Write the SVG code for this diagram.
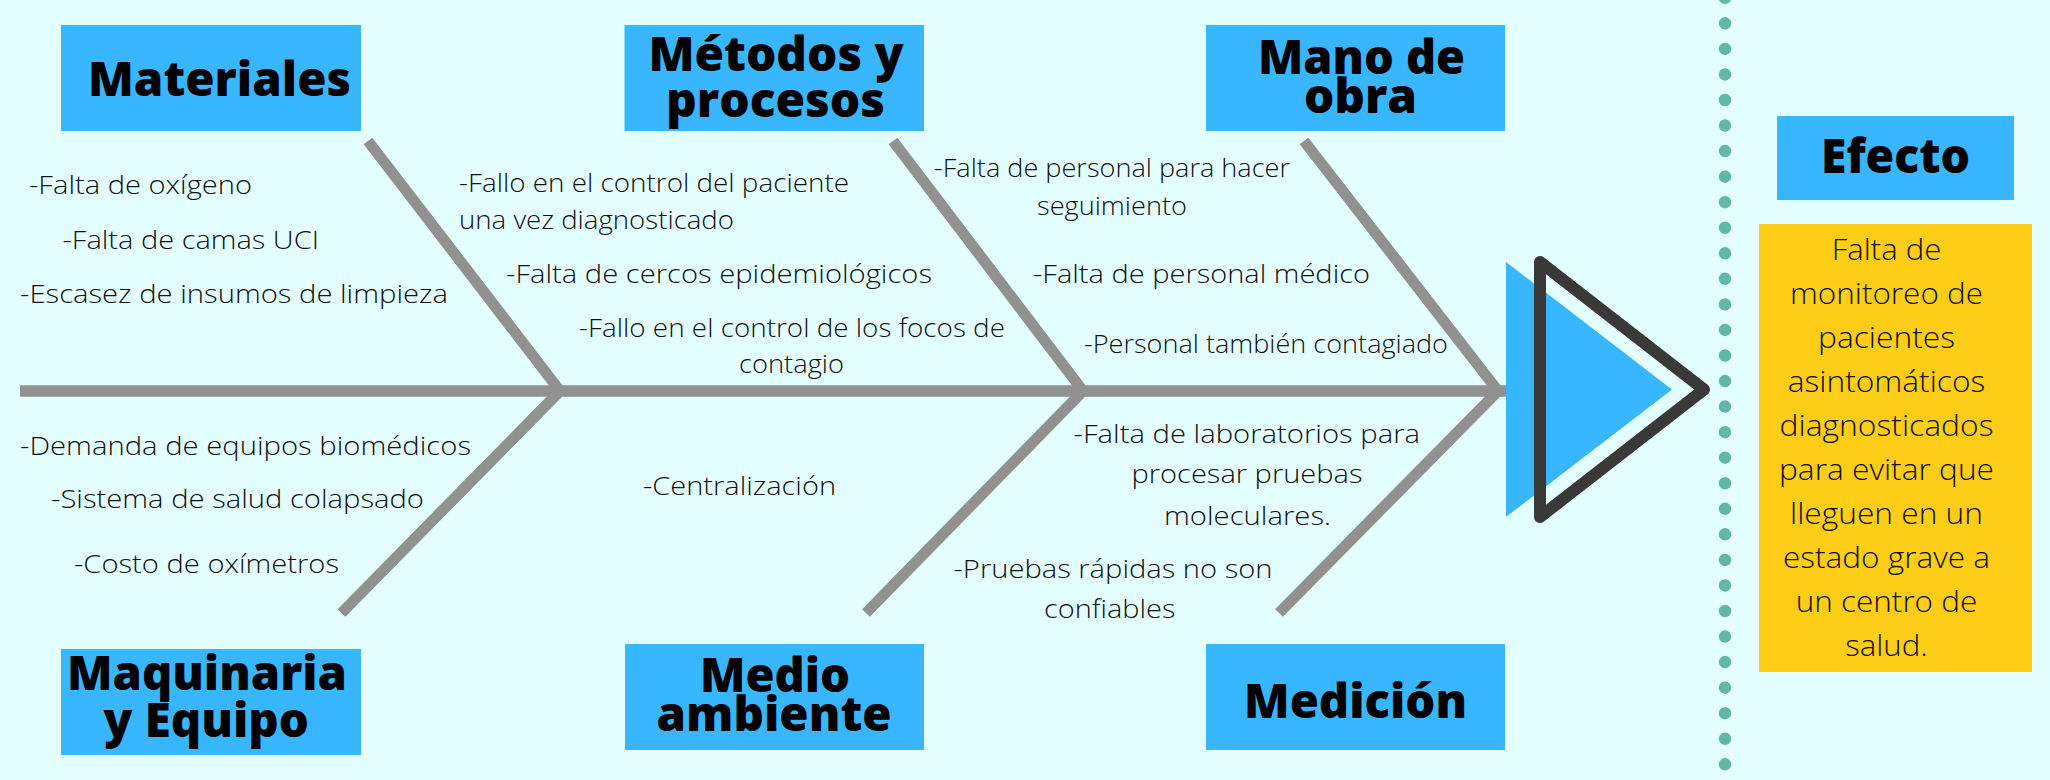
<svg xmlns="http://www.w3.org/2000/svg" width="2050" height="780" viewBox="0 0 2050 780">
<style>
.bg{fill:#e3ffff}
.box{fill:#38b6ff}
.ybox{fill:#fecd17}
.title{font-family:"Open Sans","Liberation Sans",sans-serif;font-weight:800;font-size:48px;fill:#000}
.t{font-family:"Open Sans","Liberation Sans",sans-serif;font-weight:300;font-size:26.5px;fill:#111}
.e{font-family:"Open Sans","Liberation Sans",sans-serif;font-weight:300;font-size:30px;fill:#111;text-anchor:middle}
.bone{fill:none;stroke:#919191;stroke-width:11;stroke-linejoin:miter;stroke-linecap:butt}
</style>
<rect class="bg" x="0" y="0" width="2050" height="780"/>

<g id="connectors">
  <line class="bone" x1="20" y1="391" x2="1508" y2="391" style="stroke-width:11.5"/>
  <polyline class="bone" points="368,141 560,391 341.5,613"/>
  <polyline class="bone" points="893,141 1083,391 866,613"/>
  <polyline class="bone" points="1304,141 1498,391 1279,613"/>
</g>

<g id="head">
  <polygon points="1506,262 1672,389.5 1506,517" fill="#38b6ff"/>
  <polygon points="1540,262 1704,389.5 1540,517" fill="none" stroke="#393939" stroke-width="12" stroke-linejoin="round"/>
</g>

<g id="divider">
  <line x1="1725" y1="-2.2" x2="1725" y2="765" stroke="#63b7a9" stroke-width="12.5" stroke-linecap="round" stroke-dasharray="0 25.55"/>
</g>

<g id="materiales">
  <rect class="box" x="61" y="25" width="300" height="106"/>
  <text class="title" x="88" y="96" textLength="263" lengthAdjust="spacingAndGlyphs">Materiales</text>
  <text class="t" x="29" y="194" textLength="223" lengthAdjust="spacingAndGlyphs">-Falta de oxígeno</text>
  <text class="t" x="62.5" y="249" textLength="256.5" lengthAdjust="spacingAndGlyphs">-Falta de camas UCI</text>
  <text class="t" x="20" y="303" textLength="428" lengthAdjust="spacingAndGlyphs">-Escasez de insumos de limpieza</text>
</g>

<g id="metodos">
  <rect class="box" x="624.5" y="25" width="299.5" height="106"/>
  <text class="title" x="648.5" y="71" textLength="255" lengthAdjust="spacingAndGlyphs">Métodos y</text>
  <text class="title" x="666" y="117" textLength="219" lengthAdjust="spacingAndGlyphs">procesos</text>
  <text class="t" x="459" y="191.5" textLength="390" lengthAdjust="spacingAndGlyphs">-Fallo en el control del paciente</text>
  <text class="t" x="459" y="228.5" textLength="275" lengthAdjust="spacingAndGlyphs">una vez diagnosticado</text>
  <text class="t" x="506" y="283" textLength="426" lengthAdjust="spacingAndGlyphs">-Falta de cercos epidemiológicos</text>
  <text class="t" x="579" y="337" textLength="426" lengthAdjust="spacingAndGlyphs">-Fallo en el control de los focos de</text>
  <text class="t" x="739" y="373" textLength="105" lengthAdjust="spacingAndGlyphs">contagio</text>
</g>

<g id="mano-de-obra">
  <rect class="box" x="1206" y="25" width="299" height="106"/>
  <text class="title" x="1258" y="74" textLength="207" lengthAdjust="spacingAndGlyphs">Mano de</text>
  <text class="title" x="1304" y="113" textLength="113" lengthAdjust="spacingAndGlyphs">obra</text>
  <text class="t" x="934" y="177" textLength="356" lengthAdjust="spacingAndGlyphs">-Falta de personal para hacer</text>
  <text class="t" x="1037" y="215" textLength="150" lengthAdjust="spacingAndGlyphs">seguimiento</text>
  <text class="t" x="1033" y="283" textLength="337" lengthAdjust="spacingAndGlyphs">-Falta de personal médico</text>
  <text class="t" x="1084" y="353" textLength="364" lengthAdjust="spacingAndGlyphs">-Personal también contagiado</text>
</g>

<g id="maquinaria">
  <rect class="box" x="61" y="649" width="300" height="106"/>
  <text class="title" x="67" y="690" textLength="280" lengthAdjust="spacingAndGlyphs">Maquinaria</text>
  <text class="title" x="103.5" y="737" textLength="205.5" lengthAdjust="spacingAndGlyphs">y Equipo</text>
  <text class="t" x="20" y="455" textLength="451" lengthAdjust="spacingAndGlyphs">-Demanda de equipos biomédicos</text>
  <text class="t" x="51" y="508" textLength="373" lengthAdjust="spacingAndGlyphs">-Sistema de salud colapsado</text>
  <text class="t" x="74" y="573" textLength="265" lengthAdjust="spacingAndGlyphs">-Costo de oxímetros</text>
</g>

<g id="medio-ambiente">
  <rect class="box" x="625" y="644" width="299" height="106"/>
  <text class="title" x="700" y="691.5" textLength="150" lengthAdjust="spacingAndGlyphs">Medio</text>
  <text class="title" x="656.5" y="730.5" textLength="235" lengthAdjust="spacingAndGlyphs">ambiente</text>
  <text class="t" x="643" y="495" textLength="193" lengthAdjust="spacingAndGlyphs">-Centralización</text>
</g>

<g id="medicion">
  <rect class="box" x="1206" y="644" width="299" height="106"/>
  <text class="title" x="1244" y="718" textLength="223" lengthAdjust="spacingAndGlyphs">Medición</text>
  <text class="t" x="1073.5" y="443" textLength="346.5" lengthAdjust="spacingAndGlyphs">-Falta de laboratorios para</text>
  <text class="t" x="1131.5" y="483" textLength="231" lengthAdjust="spacingAndGlyphs">procesar pruebas</text>
  <text class="t" x="1164" y="525" textLength="167" lengthAdjust="spacingAndGlyphs">moleculares.</text>
  <text class="t" x="953.5" y="578" textLength="319" lengthAdjust="spacingAndGlyphs">-Pruebas rápidas no son</text>
  <text class="t" x="1044" y="618" textLength="131.5" lengthAdjust="spacingAndGlyphs">confiables</text>
</g>

<g id="efecto">
  <rect class="box" x="1777" y="116" width="237" height="84"/>
  <text class="title" x="1821" y="173" textLength="149" lengthAdjust="spacingAndGlyphs">Efecto</text>
  <rect class="ybox" x="1759" y="224" width="273" height="448"/>
  <text class="e" x="1886.5" y="260" textLength="109.5" lengthAdjust="spacingAndGlyphs">Falta de</text>
  <text class="e" x="1886.5" y="304" textLength="193" lengthAdjust="spacingAndGlyphs">monitoreo de</text>
  <text class="e" x="1886.5" y="348" textLength="137" lengthAdjust="spacingAndGlyphs">pacientes</text>
  <text class="e" x="1886.5" y="392" textLength="197.5" lengthAdjust="spacingAndGlyphs">asintomáticos</text>
  <text class="e" x="1886.5" y="436" textLength="214" lengthAdjust="spacingAndGlyphs">diagnosticados</text>
  <text class="e" x="1886.5" y="480" textLength="215" lengthAdjust="spacingAndGlyphs">para evitar que</text>
  <text class="e" x="1886.5" y="524" textLength="193" lengthAdjust="spacingAndGlyphs">lleguen en un</text>
  <text class="e" x="1886.5" y="568" textLength="207" lengthAdjust="spacingAndGlyphs">estado grave a</text>
  <text class="e" x="1886.5" y="612" textLength="181.5" lengthAdjust="spacingAndGlyphs">un centro de</text>
  <text class="e" x="1886.5" y="656" textLength="82.5" lengthAdjust="spacingAndGlyphs">salud.</text>
</g>
</svg>
